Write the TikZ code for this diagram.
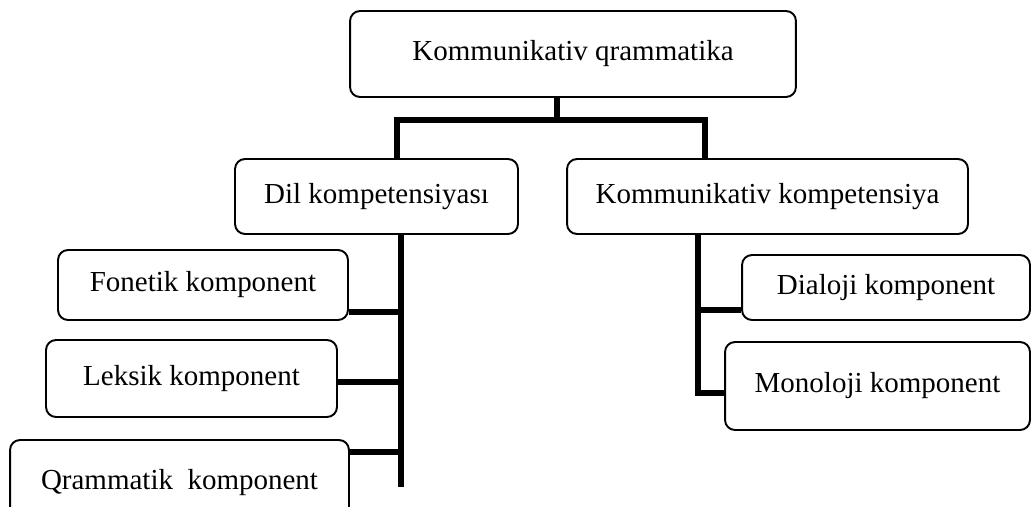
\documentclass[tikz,border=0pt]{standalone}
\usepackage{fontspec}
\setmainfont{Liberation Serif}
\begin{document}
\begin{tikzpicture}[x=0.02cm,y=-0.02cm,
        box/.style={draw,line width=1.1pt,rounded corners=0.2cm,align=center,inner sep=0pt,
            font=\fontsize{16.5}{19}\selectfont},
        conn/.style={line width=3.4pt}]
        \clip (0,0) rectangle (1031,507);
        \node[box,minimum width=8.92cm,minimum height=1.72cm] (top) at (573,54) {Kommunikativ qrammatika};
        \node[box,minimum width=5.66cm,minimum height=1.5cm] (dil) at (376.5,196.5) {Dil kompetensiyası};
        \node[box,minimum width=8.02cm,minimum height=1.5cm] (kk) at (767.5,196.5) {Kommunikativ kompetensiya};
        \node[box,minimum width=5.8cm,minimum height=1.4cm] (fon) at (203,285) {Fonetik komponent};
        \node[box,minimum width=5.82cm,minimum height=1.54cm] (lek) at (191.5,378.5) {Leksik komponent};
        \node[box,minimum width=6.78cm,minimum height=1.72cm] (qra) at (179.5,483) {Qrammatik~ komponent};
        \node[box,minimum width=5.76cm,minimum height=1.3cm] (dia) at (886,287.5) {Dialoji komponent};
        \node[box,minimum width=6.1cm,minimum height=1.76cm] (mon) at (877.5,386) {Monoloji komponent};
        \coordinate (hub) at (557,120);
        \coordinate (hl) at (397,120);
        \coordinate (hr) at (705,120);
        \coordinate (dend) at (401,487);
        \coordinate (kend) at (698,393);
        % upper branches
        \draw[conn] (top.south -| hub) -- (hub);
        \draw[conn] (dil.north -| hl) -- (hl) -- (hr) -- (kk.north -| hr);
        % left side
        \draw[conn] (dil.south -| dend) -- (dend);
        \draw[conn] ([yshift=-0.54cm]fon.east) coordinate (f1) -- (f1 -| dend);
        \draw[conn] ([yshift=-0.07cm]lek.east) coordinate (l1) -- (l1 -| dend);
        \draw[conn] ([yshift=0.62cm]qra.east) coordinate (q1) -- (q1 -| dend);
        % right side
        \draw[conn] (kk.south -| kend) -- (kend) -- (kend -| mon.west);
        \draw[conn] ([yshift=-0.45cm]dia.west) coordinate (d1) -- (d1 -| kend);
    \end{tikzpicture}
\end{document}
